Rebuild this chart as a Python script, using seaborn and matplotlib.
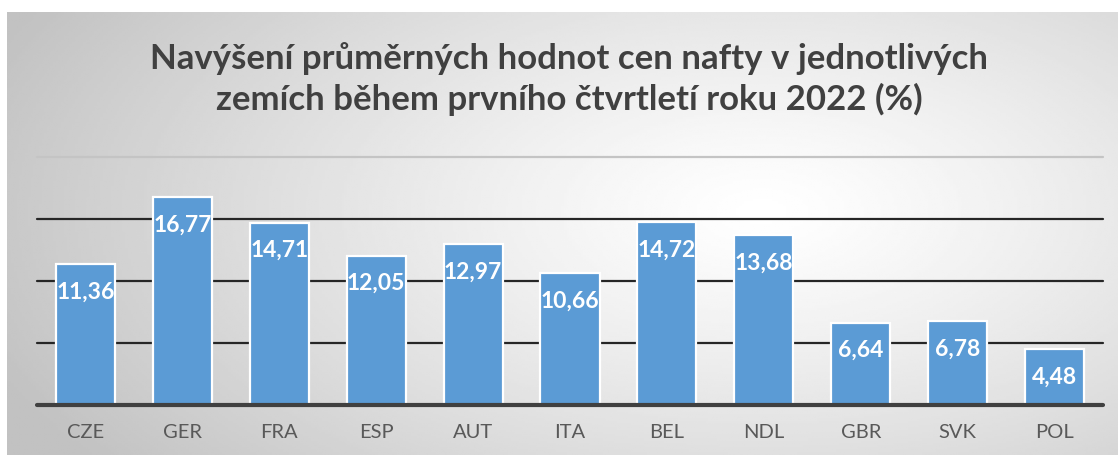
import numpy as np
import pandas as pd
import matplotlib
matplotlib.use('Agg')
import matplotlib.pyplot as plt
import seaborn as sns

# ==========================================
# Data
# ==========================================
countries = ['CZE', 'GER', 'FRA', 'ESP', 'AUT', 'ITA', 'BEL', 'NDL', 'GBR', 'SVK', 'POL']
increase = [11.36, 16.77, 14.71, 12.05, 12.97, 10.66, 14.72, 13.68, 6.64, 6.78, 4.48]
grid_values = [5, 10, 15, 20]

title = 'Navýšení průměrných hodnot cen nafty v jednotlivých\nzemích během prvního čtvrtletí roku 2022 (%)'

sns.set_theme(style='white')
plt.rcParams['font.family'] = ['Lato', 'DejaVu Sans']

W, H = 1120, 459
fig = plt.figure(figsize=(W / 100, H / 100), dpi=100)
fig.patch.set_facecolor('white')

# background frame with radial gradient
x0, y0, x1, y1 = 7, 12, 1118, 455
bg = fig.add_axes([x0 / W, 1 - y1 / H, (x1 - x0) / W, (y1 - y0) / H])
gx, gy = np.meshgrid(np.linspace(0, 1, 400), np.linspace(0, 1, 200))
r = np.sqrt(((gx - 0.68) / 0.75) ** 2 + ((gy - 0.45) / 0.95) ** 2)
shade = 1.0 - 0.24 * np.clip(r, 0, 1) ** 1.2
bg.imshow(shade, cmap='gray', vmin=0, vmax=1, aspect='auto', extent=[0, 1, 0, 1])
bg.set_axis_off()

# main plot area
left, right, base, top = 37, 1103, 405, 157
ax = fig.add_axes([left / W, 1 - base / H, (right - left) / W, (base - top) / H])
ax.patch.set_alpha(0)

df = pd.DataFrame({'country': countries, 'value': increase})

for g in grid_values:
    col = '#c4c4c4' if g == 20 else '#262626'
    ax.axhline(g, color=col, linewidth=1.6, zorder=0, clip_on=False)

sns.barplot(data=df, x='country', y='value', color='#5B9BD5', saturation=1,
            width=0.61, edgecolor='white', linewidth=1.6, ax=ax, zorder=2)

ax.axhline(0, color='#404040', linewidth=3, zorder=3, clip_on=False)

for i, v in enumerate(increase):
    ax.text(i, v - 2.25, f'{v:.2f}'.replace('.', ','), ha='center', va='center',
            color='white', fontsize=16.5, fontweight='bold', zorder=4)

ax.set_ylim(0, 20)
ax.set_xlim(-0.5, len(countries) - 0.5)
ax.set_yticks([])
ax.set_xlabel('')
ax.set_ylabel('')
for s in ax.spines.values():
    s.set_visible(False)
ax.tick_params(axis='x', length=0, pad=14, labelsize=14.5, labelcolor='#595959')

fig.text(0.508, 1 - 79 / H, title, ha='center', va='center', fontsize=25,
         fontweight='bold', color='#404040', linespacing=1.3)

fig.savefig('out.png', dpi=100)
